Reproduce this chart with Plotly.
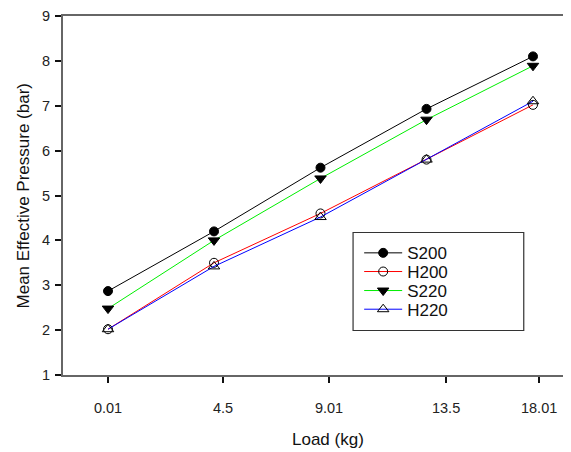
import plotly.graph_objects as go

# ---- data ----
load = [0.01, 4.5, 9.01, 13.5, 18.01]
tick_labels = ["0.01", "4.5", "9.01", "13.5", "18.01"]
s200 = [2.87, 4.2, 5.62, 6.93, 8.1]
h200 = [2.02, 3.5, 4.6, 5.8, 7.02]
s220 = [2.48, 4.0, 5.38, 6.69, 7.89]
h220 = [2.02, 3.42, 4.52, 5.8, 7.1]
y_ticks = [1, 2, 3, 4, 5, 6, 7, 8, 9]

FONT = "Liberation Sans, Arial, sans-serif"

series = [
    ("S200", s200, "#000000", dict(symbol="circle", size=9, color="#000000",
                                   line=dict(color="#000000", width=1)), "legend"),
    ("H200", h200, "#ff0000", dict(symbol="circle-open", size=9, color="#000000",
                                   line=dict(color="#000000", width=1)), "legend2"),
    ("S220", s220, "#00ee00", dict(symbol="triangle-down", size=10, color="#000000",
                                   line=dict(color="#000000", width=1)), "legend3"),
    ("H220", h220, "#0000ff", dict(symbol="triangle-up-open", size=10, color="#000000",
                                   line=dict(color="#000000", width=1)), "legend4"),
]

fig = go.Figure()
for name, vals, col, mk, lg in series:
    fig.add_trace(go.Scatter(
        x=load, y=vals, name=name, mode="lines+markers",
        line=dict(color=col, width=1), marker=mk, legend=lg, showlegend=True,
    ))

legend_common = dict(
    x=0.583, xanchor="left", yanchor="middle",
    bgcolor="rgba(0,0,0,0)", borderwidth=0, itemwidth=38,
    font=dict(family=FONT, size=17, color="#111111"),
)
ys = [0.339, 0.287, 0.234, 0.182]

title_font = dict(family=FONT, size=17, color="#111111")

fig.update_layout(
    width=563, height=444,
    margin=dict(l=55, r=0, t=4, b=77),
    paper_bgcolor="white", plot_bgcolor="white",
    font=dict(family=FONT, color="#222222"),
    showlegend=True,
    legend=dict(y=ys[0], **legend_common),
    legend2=dict(y=ys[1], **legend_common),
    legend3=dict(y=ys[2], **legend_common),
    legend4=dict(y=ys[3], **legend_common),
    xaxis=dict(
        range=[-1.896, 19.62],
        tickmode="array",
        tickvals=[0.01, 4.88, 9.37, 14.33, 18.27],
        ticktext=tick_labels,
        ticks="outside", ticklen=6, tickwidth=1.5, tickcolor="#111111",
        showline=True, linecolor="#666666", linewidth=2, mirror=True,
        showgrid=False, zeroline=False,
        tickfont=dict(family=FONT, size=14.5, color="#222222"),
        ticklabelstandoff=13,
    ),
    yaxis=dict(
        range=[1, 9],
        tickmode="array", tickvals=y_ticks,
        ticks="outside", ticklen=6, tickwidth=1.5, tickcolor="#111111",
        showline=True, linecolor="#666666", linewidth=2,
        showgrid=False, zeroline=False,
        tickfont=dict(family=FONT, size=14.5, color="#222222"),
        ticklabelstandoff=2, ticklabeloverflow="allow",
    ),
    annotations=[
        dict(text="Load (kg)", xref="paper", yref="paper", x=0.522, y=-0.179,
             xanchor="center", yanchor="middle", showarrow=False, font=title_font),
        dict(text="Mean Effective Pressure (bar)", xref="paper", yref="paper",
             x=-0.0768, y=0.5, xanchor="center", yanchor="middle", textangle=-90,
             showarrow=False, font=title_font),
    ],
    shapes=[dict(type="rect", xref="paper", yref="paper",
                 x0=0.571, x1=0.907, y0=0.124, y1=0.397,
                 line=dict(color="#333333", width=1.2), fillcolor="rgba(0,0,0,0)")],
)

fig.write_html("out.html")
